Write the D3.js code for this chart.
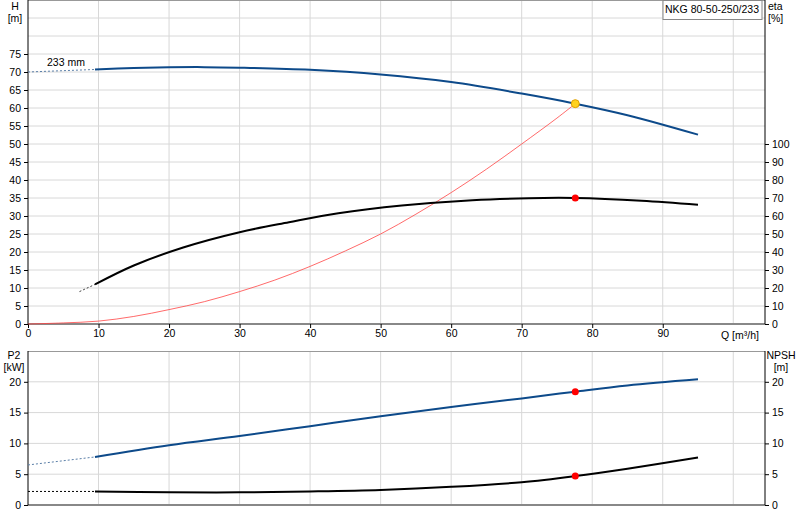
<!DOCTYPE html>
<html><head><meta charset="utf-8">
<script src="https://cdn.jsdelivr.net/npm/d3@7"></script>
<style>body{margin:0;background:#fff}text{font-family:"Liberation Sans",Arial,sans-serif;font-size:10.5px;fill:#000}</style>
</head><body><svg id="c" width="800" height="520"></svg>
<script>
// Data
const headCurve = [[9.5,70.7],[15,71.1],[20,71.3],[25,71.35],[30,71.2],[40,70.6],[50,69.3],[60,67.2],[70,64],[77.6,61.2],[85,58],[95,52.6]];
const headDash = [[0,70],[9.5,70.7]];
const systemCurve = [[0,0],[5,0.3],[10,0.8],[15,2.1],[20,4],[25,6.2],[30,9],[35,12.2],[40,16],[45,20.3],[50,25],[55,30.5],[60,36.5],[65,43],[70,50],[75,57.2],[77.6,61.2]];
const etaCurve = [[9.5,22],[15,32.5],[22,42.5],[30,51],[37,56.5],[44,61.5],[53,65.8],[63,68.8],[71,69.9],[77.6,70],[87,68.5],[95,66.3]];
const etaDash = [[7.3,18],[9.5,22]];
const p2Curve = [[9.5,7.8],[20,9.7],[30,11.2],[40,12.8],[50,14.4],[60,15.9],[70,17.3],[77.6,18.4],[85,19.4],[95,20.4]];
const p2Dash = [[0,6.5],[9.5,7.8]];
const npshCurve = [[9.5,2.2],[20,2.05],[30,2.05],[40,2.2],[50,2.45],[60,2.95],[70,3.7],[77.6,4.7],[85,5.9],[95,7.7]];
const npshDash = [[0,2.2],[9.5,2.2]];
const duty = {q:77.6, h:61.2, eta:70, p2:18.4, npsh:4.7};
const qTicks = [0,10,20,30,40,50,60,70,80,90];
const hTicks = [0,5,10,15,20,25,30,35,40,45,50,55,60,65,70,75];
const etaTicks = [0,10,20,30,40,50,60,70,80,90,100];
const lowTicks = [0,5,10,15,20];

const svg = d3.select("#c");
const L = 28, R = 765;
const x = d3.scaleLinear().domain([0,104.5]).range([L,R]);
const yH = d3.scaleLinear().domain([0,90]).range([324,0]);
const yEta = d3.scaleLinear().domain([0,100]).range([324,144]);
const yLow = d3.scaleLinear().domain([0,25]).range([505,351]);
const line = y => d3.line().x(d => x(d[0])).y(d => y(d[1])).curve(d3.curveCatmullRom);

function grid(top, bottom, yScale, yGrid) {
    const g = svg.append("g");
    g.selectAll(".v").data(d3.range(10,101,10)).join("line")
        .attr("x1", d => x(d)).attr("x2", d => x(d)).attr("y1", top).attr("y2", bottom)
        .attr("stroke", "#d8d8d8");
    g.selectAll(".h").data(yGrid).join("line")
        .attr("x1", L).attr("x2", R).attr("y1", d => yScale(d)).attr("y2", d => yScale(d))
        .attr("stroke", "#d8d8d8");
    g.append("line").attr("x1", L).attr("x2", R).attr("y1", top + 0.5).attr("y2", top + 0.5).attr("stroke", "#999");
    g.append("line").attr("x1", L).attr("x2", R).attr("y1", bottom).attr("y2", bottom).attr("stroke", "#888").attr("stroke-width", 2);
    g.append("line").attr("x1", L).attr("x2", L).attr("y1", top).attr("y2", bottom).attr("stroke", "#000");
    g.append("line").attr("x1", R).attr("x2", R).attr("y1", top).attr("y2", bottom).attr("stroke", "#000");
}

function styleAxis(g) {
    g.select(".domain").remove();
    g.selectAll("text").style("font-size", "10.5px").style("font-family", "Liberation Sans, Arial, sans-serif");
}
function leftAxis(scale, ticks) {
    svg.append("g").attr("transform", `translate(${L},0)`)
        .call(d3.axisLeft(scale).tickValues(ticks).tickSize(4).tickPadding(3)).call(styleAxis);
}
function rightAxis(scale, ticks) {
    svg.append("g").attr("transform", `translate(${R},0)`)
        .call(d3.axisRight(scale).tickValues(ticks).tickSize(4).tickPadding(3)).call(styleAxis);
}

// Top panel
grid(0, 324, yH, d3.range(5, 90, 5));
leftAxis(yH, hTicks);
rightAxis(yEta, etaTicks);
svg.append("g").attr("transform", "translate(0,324)")
    .call(d3.axisBottom(x).tickValues(qTicks).tickSize(4).tickPadding(2)).call(styleAxis);
svg.append("text").attr("x", 721).attr("y", 339).text("Q [m³/h]");
svg.append("text").attr("x", 15).attr("y", 10).attr("text-anchor", "middle").text("H");
svg.append("text").attr("x", 15).attr("y", 22).attr("text-anchor", "middle").text("[m]");
svg.append("text").attr("x", 768).attr("y", 10).text("eta");
svg.append("text").attr("x", 768).attr("y", 22).text("[%]");
svg.append("rect").attr("x", 663).attr("y", 0.5).attr("width", 99).attr("height", 19)
    .attr("fill", "#fff").attr("stroke", "#888");
svg.append("text").attr("x", 712).attr("y", 13).attr("text-anchor", "middle").text("NKG 80-50-250/233");
svg.append("text").attr("x", 47).attr("y", 66).text("233 mm");

svg.append("path").datum(systemCurve).attr("d", line(yH)).attr("fill", "none").attr("stroke", "#f44").attr("stroke-width", 0.8);
svg.append("path").datum(headDash).attr("d", line(yH)).attr("fill", "none").attr("stroke", "#5b7fa8").attr("stroke-dasharray", "2,2");
svg.append("path").datum(headCurve).attr("d", line(yH)).attr("fill", "none").attr("stroke", "#0d4a8a").attr("stroke-width", 2);
svg.append("path").datum(etaDash).attr("d", line(yEta)).attr("fill", "none").attr("stroke", "#444").attr("stroke-dasharray", "2,2");
svg.append("path").datum(etaCurve).attr("d", line(yEta)).attr("fill", "none").attr("stroke", "#000").attr("stroke-width", 2);
svg.append("circle").attr("cx", x(duty.q)).attr("cy", yH(duty.h)).attr("r", 4).attr("fill", "#ffd21f").attr("stroke", "#e0a000");
svg.append("circle").attr("cx", x(duty.q)).attr("cy", yEta(duty.eta)).attr("r", 3.5).attr("fill", "#f00");

// Bottom panel
grid(351, 505, yLow, [5,10,15,20]);
leftAxis(yLow, lowTicks);
rightAxis(yLow, lowTicks);
svg.append("text").attr("x", 14).attr("y", 359).attr("text-anchor", "middle").text("P2");
svg.append("text").attr("x", 14).attr("y", 371).attr("text-anchor", "middle").text("[kW]");
svg.append("text").attr("x", 781).attr("y", 359).attr("text-anchor", "middle").text("NPSH");
svg.append("text").attr("x", 781).attr("y", 371).attr("text-anchor", "middle").text("[m]");

svg.append("path").datum(p2Dash).attr("d", line(yLow)).attr("fill", "none").attr("stroke", "#5b7fa8").attr("stroke-dasharray", "2,2");
svg.append("path").datum(p2Curve).attr("d", line(yLow)).attr("fill", "none").attr("stroke", "#0d4a8a").attr("stroke-width", 2);
svg.append("path").datum(npshDash).attr("d", line(yLow)).attr("fill", "none").attr("stroke", "#000").attr("stroke-dasharray", "2,2");
svg.append("path").datum(npshCurve).attr("d", line(yLow)).attr("fill", "none").attr("stroke", "#000").attr("stroke-width", 2);
svg.append("circle").attr("cx", x(duty.q)).attr("cy", yLow(duty.p2)).attr("r", 3.5).attr("fill", "#f00");
svg.append("circle").attr("cx", x(duty.q)).attr("cy", yLow(duty.npsh)).attr("r", 3.5).attr("fill", "#f00");
</script></body></html>
